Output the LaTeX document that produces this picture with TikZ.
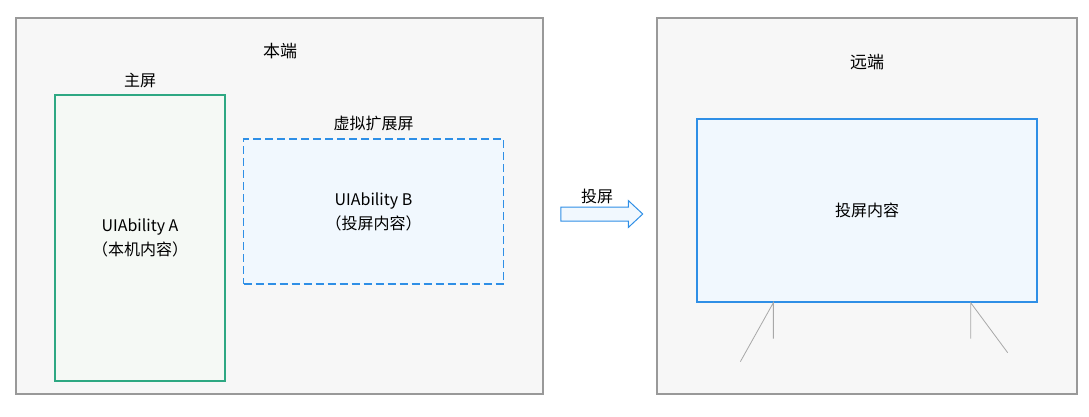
\documentclass[tikz,border=0pt]{standalone}
\usepackage{fontspec}
\setmainfont{Noto Sans CJK SC}
\usepackage{tikz}
\usetikzlibrary{positioning}
\usetikzlibrary{shapes.arrows}
\usepackage{xcolor}

\definecolor{framegray}{HTML}{999999}
\definecolor{framefill}{HTML}{F7F7F7}
\definecolor{uigreen}{HTML}{2EA883}
\definecolor{uifill}{HTML}{F5F9F5}
\definecolor{castblue}{HTML}{2F8FE6}
\definecolor{castfill}{HTML}{F1F8FE}
\definecolor{leggray}{HTML}{A8A8A8}

\tikzset{
  frame/.style={draw=framegray, fill=framefill, line width=1.1pt, inner sep=0pt},
  panel/.style={inner sep=0pt, align=center, font=\fontsize{16}{24}\selectfont},
  lbl/.style={inner sep=0pt, text height=12pt, text depth=2pt, font=\fontsize{16}{18}\selectfont},
  title/.style={lbl, font=\fontsize{17}{18}\selectfont}
}
\tikzset{leg/.style={draw=leggray, line width=0.8pt}}

\begin{document}
\begin{tikzpicture}[x=1pt, y=-1pt]
  \useasboundingbox (0,0) rectangle (1089,416);

  % Define nodes
  \node[frame, minimum width=527pt, minimum height=376pt] (local) at (279.5,206) {};
  \node[frame, minimum width=420pt, minimum height=376pt] (remote) at (867,206) {};
  \node[title] (localname) at (280,52) {本端};
  \node[title] (remotename) at (867,63) {远端};

  \node[panel, draw=uigreen, fill=uifill, line width=1.2pt,
        minimum width=170pt, minimum height=286pt] (main) at (140,238)
        {UIAbility A\\（本机内容）};
  \node[lbl, above=6pt of main] (mainname) {主屏};

  \node[panel, draw=castblue, fill=castfill, line width=1.2pt, dash pattern=on 8pt off 4pt,
        minimum width=260pt, minimum height=145pt] (virt) at (373.5,211.5)
        {UIAbility B\\（投屏内容）};
  \node[lbl, above=6.5pt of virt] (virtname) {虚拟扩展屏};

  \node[single arrow, draw=castblue, fill=castfill, line width=1pt,
        minimum height=82pt, inner xsep=0pt, inner ysep=6.5pt,
        single arrow head extend=6.5pt, single arrow tip angle=86] (cast) at (598,214) {};
  \node[lbl] (castname) at (597,197) {投屏};

  \node[panel, draw=castblue, fill=castfill, line width=1.3pt,
        minimum width=340pt, minimum height=183pt] (screen) at (867,210.5) {投屏内容};

  % Stand
  \coordinate (ltop) at ([xshift=77pt]screen.south west);
  \coordinate (rtop) at ([xshift=-67pt]screen.south east);
  \coordinate[below=36pt of ltop] (lpost);
  \coordinate[below=36pt of rtop] (rpost);
  \coordinate (lfoot) at ([xshift=-33pt, yshift=-59pt]ltop);
  \coordinate (rfoot) at ([xshift=37pt, yshift=-50pt]rtop);

  % Connect the nodes
  \draw[leg] (lpost) -- (ltop) -- (lfoot);
  \draw[leg] (rpost) -- (rtop) -- (rfoot);

\end{tikzpicture}
\end{document}
